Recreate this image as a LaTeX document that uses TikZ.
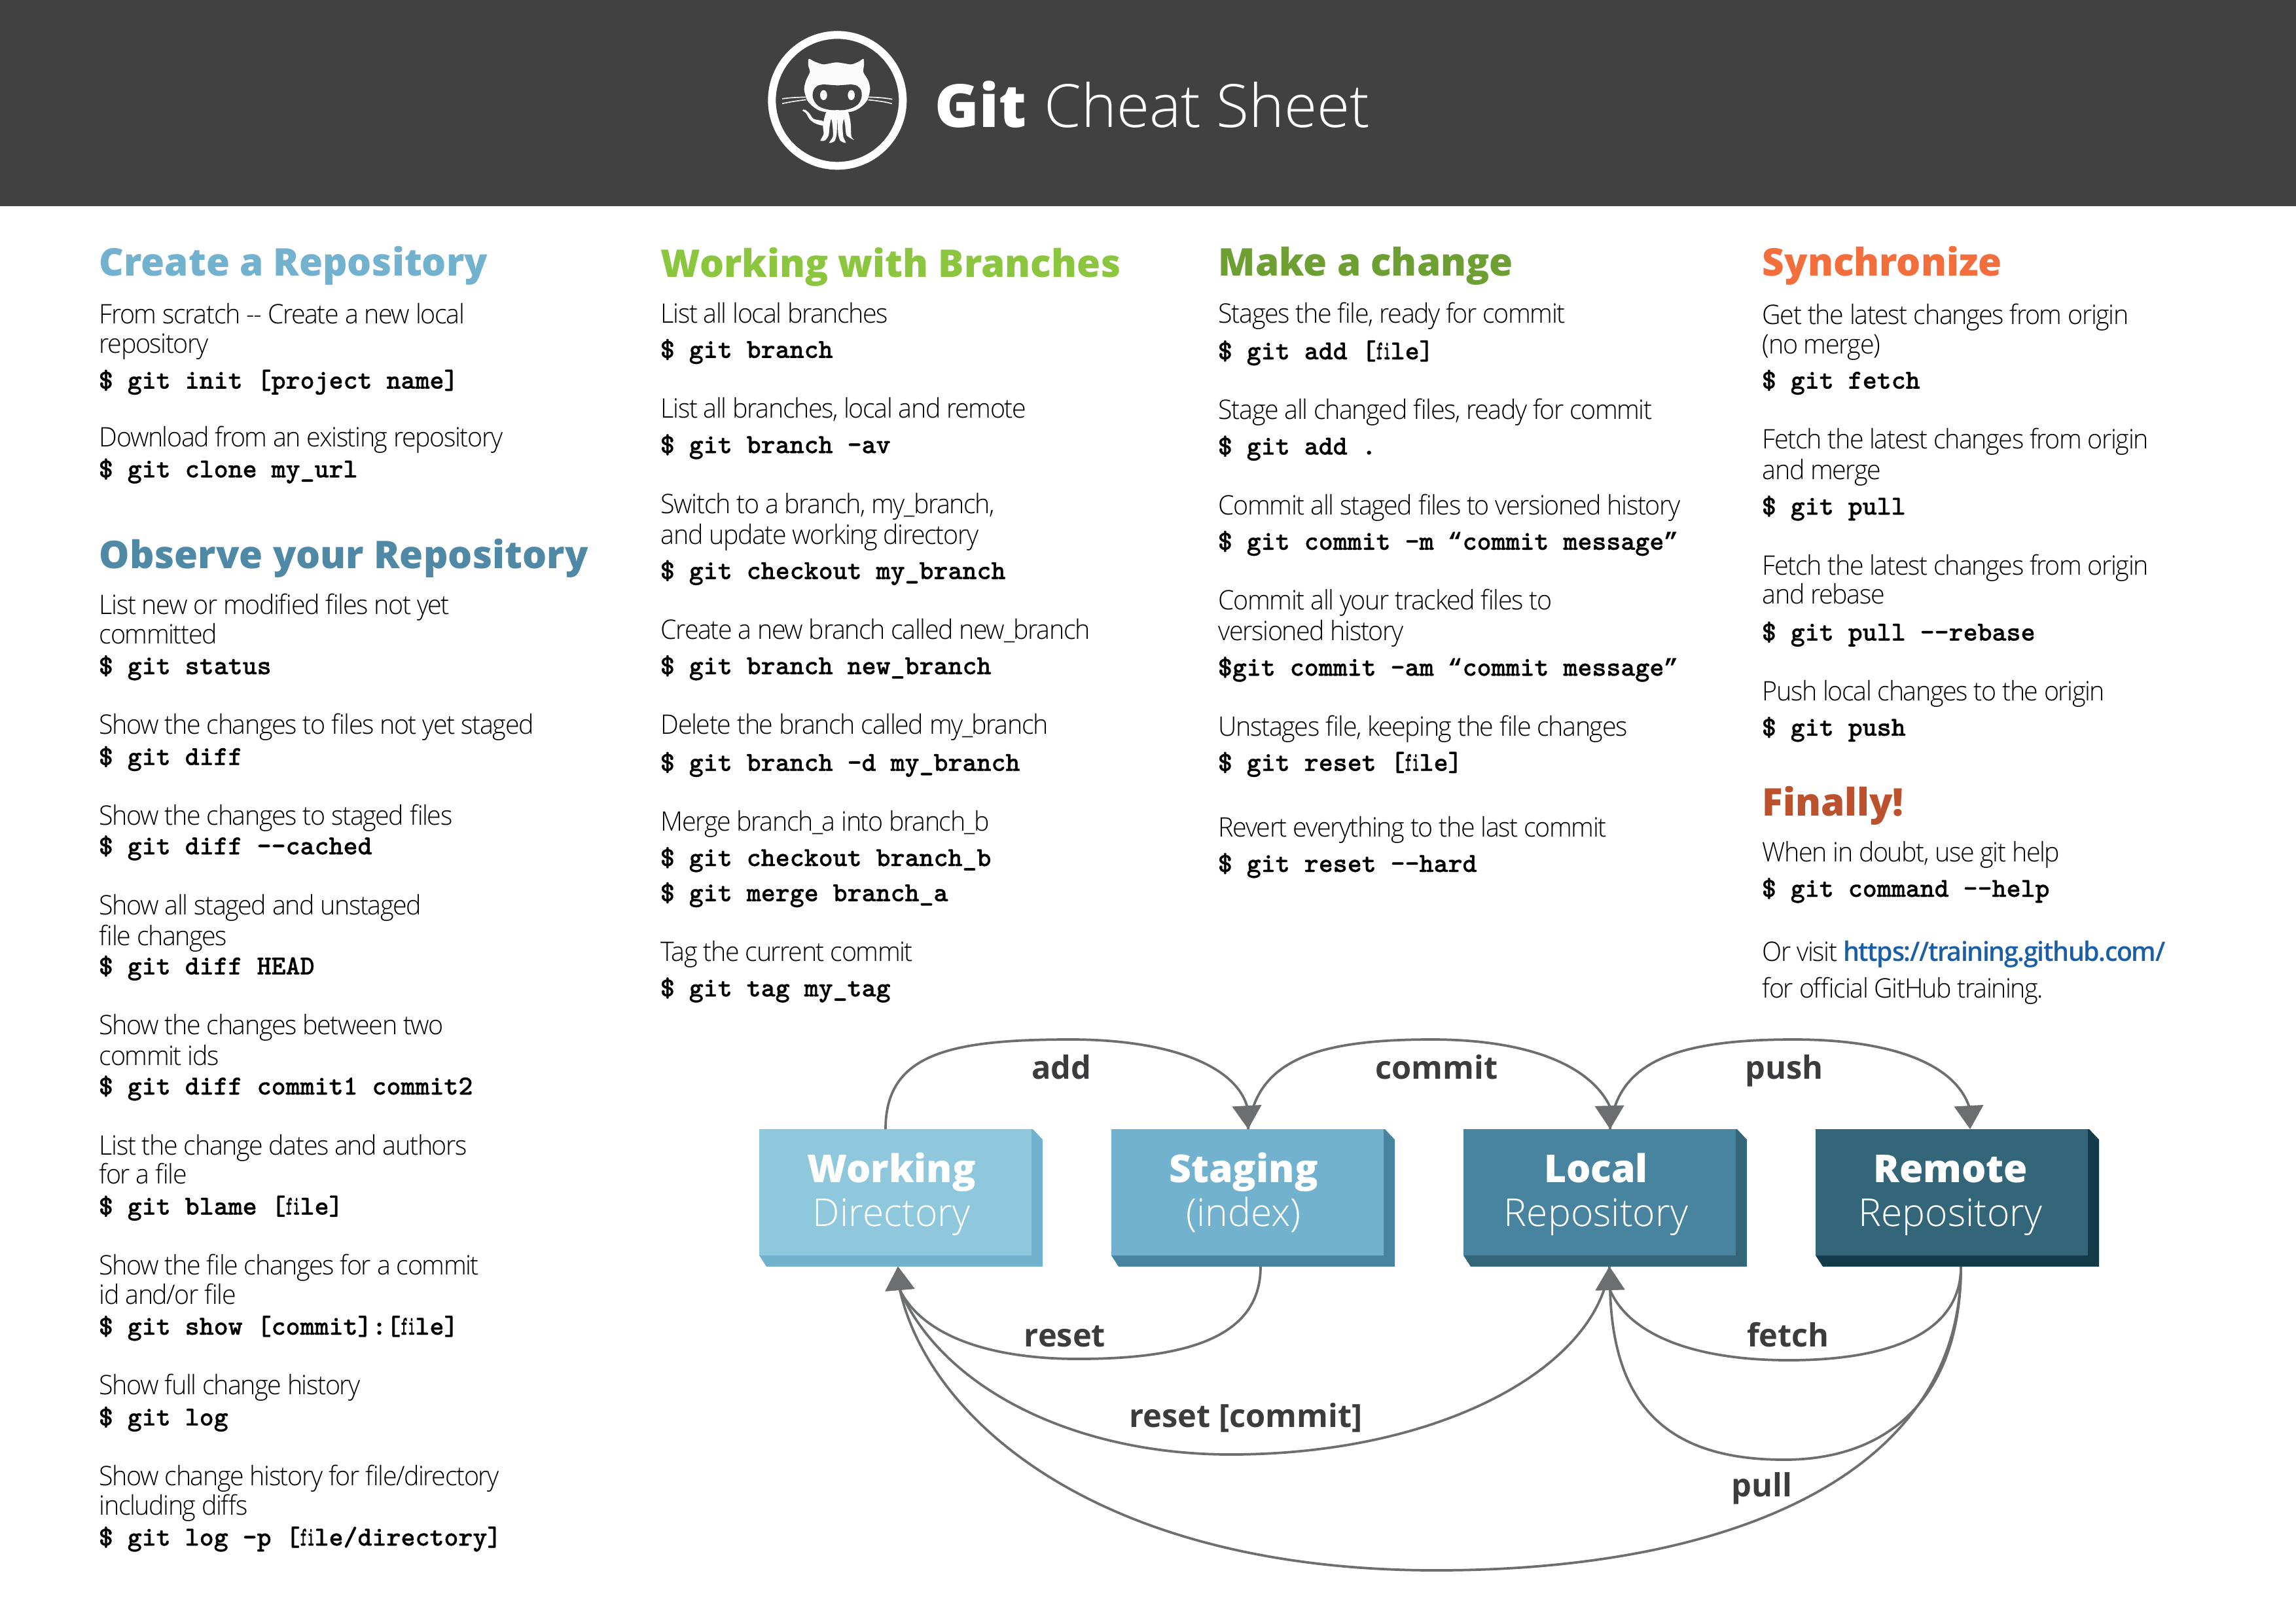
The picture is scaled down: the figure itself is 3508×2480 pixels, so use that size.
\documentclass[tikz,border=0pt]{standalone}
\usepackage{fontspec}
\usetikzlibrary{arrows.meta,calc}
\newfontfamily\oslight{Open Sans Light}
\newfontfamily\osdesc{Open Sans Light}[FakeStretch=0.96,LetterSpace=-3.5]
\IfFontExistsTF{Open Sans Extrabold}{\newfontfamily\osxbold{Open Sans Extrabold}}{%
 \IfFontExistsTF{Open Sans ExtraBold:style=ExtraBold}{\newfontfamily\osxbold{Open Sans ExtraBold:style=ExtraBold}}{%
 \newfontfamily\osxbold{Open Sans Bold}[FakeBold=0.6]}}
\newfontfamily\osbold{Open Sans}[UprightFont=*,BoldFont=* Bold]
\IfFontExistsTF{Open Sans Semibold}{\newfontfamily\ossemi{Open Sans Semibold}[FakeStretch=0.96,LetterSpace=-3.5]}{%
 \newfontfamily\ossemi{Open Sans}[FakeBold=0.4,FakeStretch=0.96,LetterSpace=-3.5]}
\IfFontExistsTF{lmmonolt10-bold.otf}{\newfontfamily\monob{lmmonolt10-bold.otf}[FakeBold=0.7]}{%
 \newcommand\monob{\ttfamily\bfseries}}
\newfontfamily\qfont{Liberation Mono Bold}
\definecolor{hdr}{HTML}{414141}
\definecolor{bluea}{HTML}{8FC7DC}
\definecolor{blueb}{HTML}{72B2CE}
\definecolor{bluec}{HTML}{48849F}
\definecolor{blued}{HTML}{336679}
\definecolor{bluee}{HTML}{133B49}
\definecolor{line}{HTML}{6D6E70}
\definecolor{lbl}{HTML}{3C3C3E}
\definecolor{hobs}{HTML}{5089A5}
\definecolor{hbranch}{HTML}{8CC63F}
\definecolor{hchange}{HTML}{6D9F32}
\definecolor{hsync}{HTML}{F26F3D}
\definecolor{hfin}{HTML}{BC512E}
\definecolor{link}{HTML}{1A5EA6}
\newlength\px \setlength\px{0.24pt}
\newcounter{tx}
\tikzset{
  desctext/.style={anchor=base west,inner sep=0pt,font=\osdesc\fontsize{9.85}{11}\selectfont,text=black},
  cmdtext/.style={anchor=base west,inner sep=0pt,font=\monob\fontsize{10.05}{11}\selectfont,text=black},
  headtext/.style={anchor=base west,inner sep=0pt,font=\osxbold\fontsize{14}{16}\selectfont},
  lbltext/.style={anchor=base,inner sep=0pt,font=\osbold\bfseries\fontsize{11.7}{13}\selectfont,text=lbl},
  gitbox/.style={inner sep=0pt,outer sep=0pt,text=white},
  conn/.style={draw=line,line width=.9pt},
  tipped/.style={conn,-{Triangle[width=10.6pt,length=8.6pt]}},
}
\newcommand\fil{\scalebox{0.5}[1]{fi}le}
\newcommand\qq[1]{\makebox[0.525em][c]{\qfont\fontsize{8.8}{11}\selectfont #1}}
\newcommand\desc[3]{\stepcounter{tx}\node[desctext] (t\thetx) at (#1,{(#2+6.5)*2.2372}) {#3};}
\newcommand\cmd[3]{\stepcounter{tx}\node[cmdtext] (t\thetx) at (#1-1,{(#2+5.4)*2.2372}) {#3};}
\newcommand\hd[4]{\stepcounter{tx}\node[headtext,text=#4] (t\thetx) at (#1,{(#2+9.3)*2.2372}) {#3};}
% #1 name #2 left x #3 front colour #4 side colour #5 bold #6 light #7 text shift
\newcommand\gbox[7]{%
  \fill[#4] (#2+416,1725) -- (#2+418,1725) -- (#2+433,1741) -- (#2+433,1935) -- (#2+11,1935) -- (#2,1918) -- cycle;
  \node[gitbox,fill=#3] (#1) at (#2+208,1821.5) {\parbox[c][193\px][t]{416\px}{%
    \baselineskip=67\px\lineskip=0pt\lineskiplimit=-100pt
    \rule{0pt}{81\px}\makebox[416\px][c]{\hspace*{#7\px}\osxbold\fontsize{14.1}{16}\selectfont #5}\par
    \makebox[416\px][c]{\hspace*{#7\px}\oslight\fontsize{14.1}{16}\selectfont #6}}};
}
\begin{document}
\begin{tikzpicture}[x=0.24pt,y=-0.24pt]
\useasboundingbox (0,0) rectangle (3508,2480);
\fill[white] (0,0) rectangle (3508,2480);
\fill[hdr] (0,0) rectangle (3508,315);
% logo
\begin{scope}[shift={(1170,45)},x=0.08pt,y=-0.08pt]
\fill[white,even odd rule] (328,325) circle (25.44pt) circle (22.56pt);
\fill[white!97!gray] plot[smooth cycle,tension=.45] coordinates {(197,135) (225,148) (265,160) (325,151) (390,160) (425,148) (448,135) (450,165) (447,195) (470,235) (478,275) (465,325) (430,360) (385,378) (270,378) (225,360) (190,325) (176,275) (184,235) (202,195) (195,165)};
\fill[hdr] plot[smooth cycle,tension=.6] coordinates {(255,253) (330,256) (400,253) (432,270) (440,305) (425,340) (390,362) (330,372) (265,362) (230,340) (215,305) (224,270)};
\fill[white!97!gray] (265,301) ellipse (16 and 23);
\fill[white!97!gray] (392,301) ellipse (16 and 23);
\fill[white!97!gray] plot[smooth cycle,tension=.4] coordinates {(285,372) (270,400) (262,440) (265,480) (250,510) (272,508) (288,485) (293,440) (300,410) (306,440) (308,490) (290,520) (315,512) (325,480) (328,410) (332,480) (342,510) (367,520) (355,490) (352,440) (358,410) (364,440) (370,485) (405,507) (392,490) (390,440) (384,400) (370,372)};
\fill[white!97!gray] plot[smooth cycle,tension=.5] coordinates {(167,370) (180,368) (200,385) (220,410) (262,420) (262,440) (225,430) (200,410) (185,385)};
\draw[white!90!gray,line width=.4pt] (75,318) .. controls (110,312) and (150,311) .. (185,310);
\draw[white!90!gray,line width=.4pt] (75,340) .. controls (110,332) and (150,326) .. (185,322);
\draw[white!90!gray,line width=.4pt] (470,310) .. controls (510,311) and (550,314) .. (580,320);
\draw[white!90!gray,line width=.4pt] (470,323) .. controls (510,326) and (550,332) .. (578,340);
\end{scope}
\node[anchor=base west,inner sep=0pt,text=white] (title) at (1428,194.6) {\fontsize{21.9}{26}\selectfont{\osxbold Git} {\oslight Cheat Sheet}};
% column 1
\hd{151}{179}{Create a Repository}{blueb}
\desc{151}{214.6}{From scratch -{}- Create a new local}
\desc{151}{234.6}{repository}
\cmd{151}{260}{\$ git init [project name]}
\desc{151}{298.4}{Download from an existing repository}
\cmd{151}{320.6}{\$ git clone my\_url}
\hd{151}{379}{Observe your Repository}{hobs}
\desc{151}{413}{List new or modified files not yet}
\desc{151}{433}{committed}
\cmd{151}{455}{\$ git status}
\desc{151}{495}{Show the changes to files not yet staged}
\cmd{151}{517}{\$ git diff}
\desc{151}{557}{Show the changes to staged files}
\cmd{151}{578}{\$ git diff -{}-cached}
\desc{151}{618}{Show all staged and unstaged}
\desc{151}{639}{file changes}
\cmd{151}{660}{\$ git diff HEAD}
\desc{151}{700}{Show the changes between two}
\desc{151}{721}{commit ids}
\cmd{151}{742}{\$ git diff commit1 commit2}
\desc{151}{782}{List the change dates and authors}
\desc{151}{802}{for a file}
\cmd{151}{824}{\$ git blame [\fil]}
\desc{151}{864}{Show the file changes for a commit}
\desc{151}{884}{id and/or file}
\cmd{151}{906}{\$ git show [commit]:[\fil]}
\desc{151}{946}{Show full change history}
\cmd{151}{968}{\$ git log}
\desc{151}{1008}{Show change history for file/directory}
\desc{151}{1028}{including diffs}
\cmd{151}{1050}{\$ git log -p [\fil/directory]}
% column 2
\hd{1009}{180}{Working with Branches}{hbranch}
\desc{1009}{214}{List all local branches}
\cmd{1009}{239}{\$ git branch}
\desc{1009}{279}{List all branches, local and remote}
\cmd{1009}{304}{\$ git branch -av}
\desc{1009}{344}{Switch to a branch, my\_branch,}
\desc{1009}{365}{and update working directory}
\cmd{1009}{390}{\$ git checkout my\_branch}
\desc{1009}{430}{Create a new branch called new\_branch}
\cmd{1009}{455}{\$ git branch new\_branch}
\desc{1009}{495}{Delete the branch called my\_branch}
\cmd{1009}{521}{\$ git branch -d my\_branch}
\desc{1009}{561}{Merge branch\_a into branch\_b}
\cmd{1009}{586}{\$ git checkout branch\_b}
\cmd{1009}{610}{\$ git merge branch\_a}
\desc{1009}{650}{Tag the current commit}
\cmd{1009}{675}{\$ git tag my\_tag}
% column 3
\hd{1861}{179}{Make a change}{hchange}
\desc{1861}{214}{Stages the file, ready for commit}
\cmd{1861}{240}{\$ git add [\fil]}
\desc{1861}{280}{Stage all changed files, ready for commit}
\cmd{1861}{305}{\$ git add .}
\desc{1861}{345}{Commit all staged files to versioned history}
\cmd{1861}{370}{\$ git commit -m \qq{“}commit message\qq{”}}
\desc{1861}{410}{Commit all your tracked files to}
\desc{1861}{431}{versioned history}
\cmd{1861}{456}{\$git commit -am \qq{“}commit message\qq{”}}
\desc{1861}{496}{Unstages file, keeping the file changes}
\cmd{1861}{521}{\$ git reset [\fil]}
\desc{1861}{565}{Revert everything to the last commit}
\cmd{1861}{590}{\$ git reset -{}-hard}
% column 4
\hd{2692}{179}{Synchronize}{hsync}
\desc{2692}{215}{Get the latest changes from origin}
\desc{2692}{235}{(no merge)}
\cmd{2692}{260}{\$ git fetch}
\desc{2692}{300}{Fetch the latest changes from origin}
\desc{2692}{321}{and merge}
\cmd{2692}{346}{\$ git pull}
\desc{2692}{386}{Fetch the latest changes from origin}
\desc{2692}{406}{and rebase}
\cmd{2692}{432}{\$ git pull -{}-rebase}
\desc{2692}{472}{Push local changes to the origin}
\cmd{2692}{497}{\$ git push}
\hd{2692}{548}{Finally!}{hfin}
\desc{2692}{582}{When in doubt, use git help}
\cmd{2692}{607}{\$ git command -{}-help}
\desc{2692}{650}{Or visit {\ossemi\color{link}https://training.github.com/}}
\desc{2692}{675}{for official GitHub training.}
% boxes
\gbox{work}{1160}{bluea}{blueb}{Working}{Directory}{-12}
\gbox{stage}{1698}{blueb}{bluec}{Staging}{(index)}{-12}
\gbox{local}{2236}{bluec}{blued}{Local}{Repository}{-11}
\gbox{remote}{2774}{blued}{bluee}{Remote}{Repository}{-4}
% connector ends
\coordinate (workTop) at ($(work.north)+(-15,0)$);
\coordinate (stageTop) at ($(stage.north)+(1,0)$);
\coordinate (stageTopB) at ($(stageTop)+(-2,-36)$);
\coordinate (localTop) at ($(local.north)+(16,0)$);
\coordinate (localTopB) at ($(localTop)+(-1,-36)$);
\coordinate (remoteTop) at ($(remote.north)+(28,0)$);
\coordinate (remoteTopB) at ($(remoteTop)+(-2,-36)$);
\coordinate (workBot) at ($(work.south)+(4,17)$);
\coordinate (workBotB) at ($(workBot)+(3,36)$);
\coordinate (stageBot) at ($(stage.south)+(20,17)$);
\coordinate (localBot) at ($(local.south)+(15,17)$);
\coordinate (localBotB) at ($(localBot)+(1,36)$);
\coordinate (remoteBot) at ($(remote.south)+(14,17)$);
% connectors
\draw[tipped] (workTop) .. controls (1353,1610) and (1450,1588) .. (1636,1588) .. controls (1780,1588) and (1885,1625) .. (stageTopB) -- (stageTop);
\draw[tipped] (stageTop) .. controls (1920,1620) and (2010,1588) .. (2187,1588) .. controls (2340,1588) and (2430,1630) .. (localTopB) -- (localTop);
\draw[tipped] (localTop) .. controls (2470,1625) and (2555,1588) .. (2740,1588) .. controls (2890,1588) and (2985,1625) .. (remoteTopB) -- (remoteTop);
\draw[tipped] (stageBot) .. controls (1926,2040) and (1820,2076) .. (1647,2076) .. controls (1510,2076) and (1410,2040) .. (workBotB) -- (workBot);
\draw[tipped] (localBot) .. controls (2440,2090) and (2200,2222) .. (1880,2222) .. controls (1640,2222) and (1440,2120) .. (workBotB) -- (workBot);
\draw[tipped] (remoteBot) .. controls (2996,2250) and (2650,2399) .. (2194,2399) .. controls (1680,2399) and (1420,2170) .. (workBotB) -- (workBot);
\draw[tipped] (remoteBot) .. controls (2996,2040) and (2880,2078) .. (2733,2078) .. controls (2590,2078) and (2490,2040) .. (localBotB) -- (localBot);
\draw[tipped] (remoteBot) .. controls (2996,2130) and (2890,2230) .. (2726,2230) .. controls (2550,2230) and (2465,2150) .. (localBotB) -- (localBot);
% labels
\node[lbltext] (ladd) at (1622,1648) {add};
\node[lbltext] (lcommit) at (2195,1648) {commit};
\node[lbltext] (lpush) at (2726,1648) {push};
\node[lbltext] (lreset) at (1627,2057) {reset};
\node[lbltext] (lresetc) at (1903.5,2180) {reset [commit]};
\node[lbltext] (lfetch) at (2732,2057) {fetch};
\node[lbltext] (lpull) at (2692,2286) {pull};
\end{tikzpicture}
\end{document}
